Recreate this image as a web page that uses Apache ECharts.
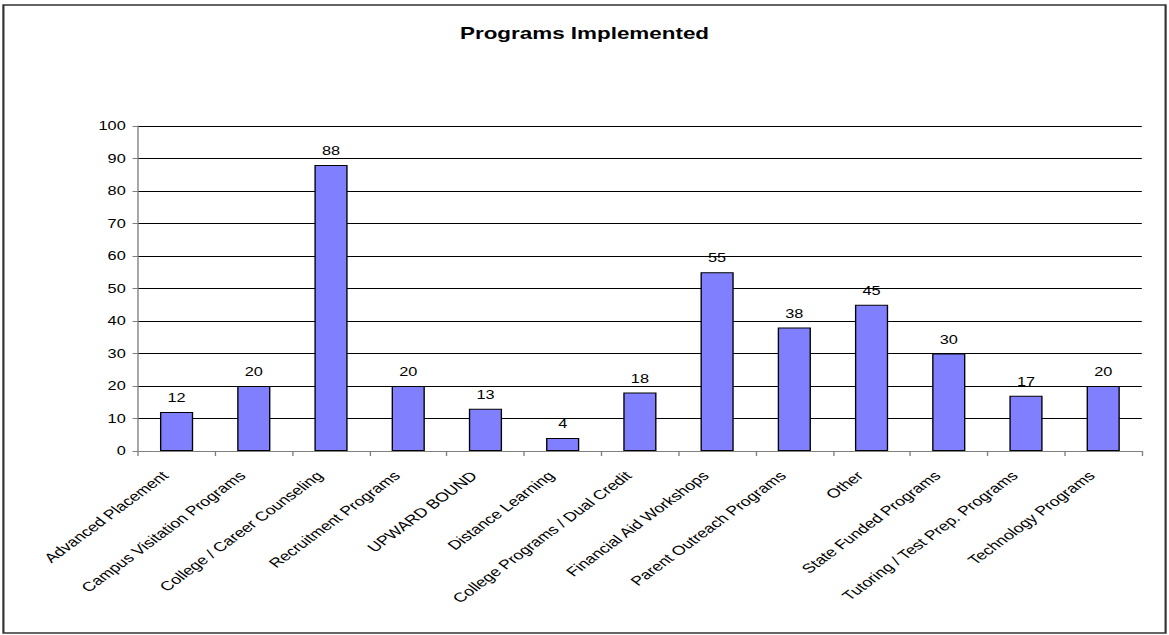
<!DOCTYPE html>
<html>
<head>
<meta charset="utf-8">
<script src="https://cdn.jsdelivr.net/npm/echarts@6/dist/echarts.min.js"></script>
<style>
html,body{margin:0;padding:0;background:#fff;overflow:hidden;width:1169px;height:635px;}
#chart{position:absolute;left:0;top:0;width:860px;height:635px;transform:scaleX(1.3593);transform-origin:0 0;}
</style>
</head>
<body>
<div id="chart"></div>
<script>
const categories = [
  'Advanced Placement',
  'Campus Visitation Programs',
  'College / Career Counseling',
  'Recruitment Programs',
  'UPWARD BOUND',
  'Distance Learning',
  'College Programs / Dual Credit',
  'Financial Aid Workshops',
  'Parent Outreach Programs',
  'Other',
  'State Funded Programs',
  'Tutoring / Test Prep. Programs',
  'Technology Programs'
];
const programCounts = [12, 20, 88, 20, 13, 4, 18, 55, 38, 45, 30, 17, 20];
const yTicks = { min: 0, max: 100, interval: 10 };
const titleText = 'Programs Implemented';

const FONT = '"Liberation Sans", Arial, sans-serif';
const chart = echarts.init(document.getElementById('chart'), null, { renderer: 'svg' });
chart.setOption({
  animation: false,
  backgroundColor: '#ffffff',
  title: {
    text: titleText,
    left: 'center',
    top: 25,
    padding: 0,
    textStyle: { fontFamily: FONT, fontSize: 16.5, fontWeight: 'bold', color: '#000' }
  },
  graphic: [{
    type: 'rect',
    shape: { x: 2.5, y: 5, width: 855, height: 628 },
    style: { fill: 'none', stroke: '#333', lineWidth: 1.6 },
    silent: true
  }],
  grid: { left: 101.5, right: 20, top: 126, bottom: 184 },
  xAxis: {
    type: 'category',
    data: categories,
    boundaryGap: true,
    axisLine: { show: true, lineStyle: { color: '#808080', width: 1 } },
    axisTick: { show: true, alignWithLabel: false, length: 5, inside: false, lineStyle: { color: '#808080' } },
    axisLabel: {
      interval: 0, rotate: 45, margin: 14, padding: [0, 12, 0, 0],
      fontFamily: FONT, fontSize: 13, color: '#000'
    },
    splitLine: { show: false }
  },
  yAxis: {
    type: 'value',
    min: yTicks.min, max: yTicks.max, interval: yTicks.interval,
    axisLine: { show: true, lineStyle: { color: '#808080', width: 1 } },
    axisTick: { show: true, length: 4, lineStyle: { color: '#808080' } },
    axisLabel: { margin: 9, fontFamily: FONT, fontSize: 12, color: '#000' },
    splitLine: { show: true, lineStyle: { color: '#000', width: 1 } }
  },
  series: [{
    type: 'bar',
    data: programCounts,
    barCategoryGap: '57%',
    itemStyle: { color: '#8080FF', borderColor: '#000', borderWidth: 1 },
    label: {
      show: true, position: 'top', distance: 8,
      fontFamily: FONT, fontSize: 12, color: '#000'
    }
  }]
});
</script>
</body>
</html>
